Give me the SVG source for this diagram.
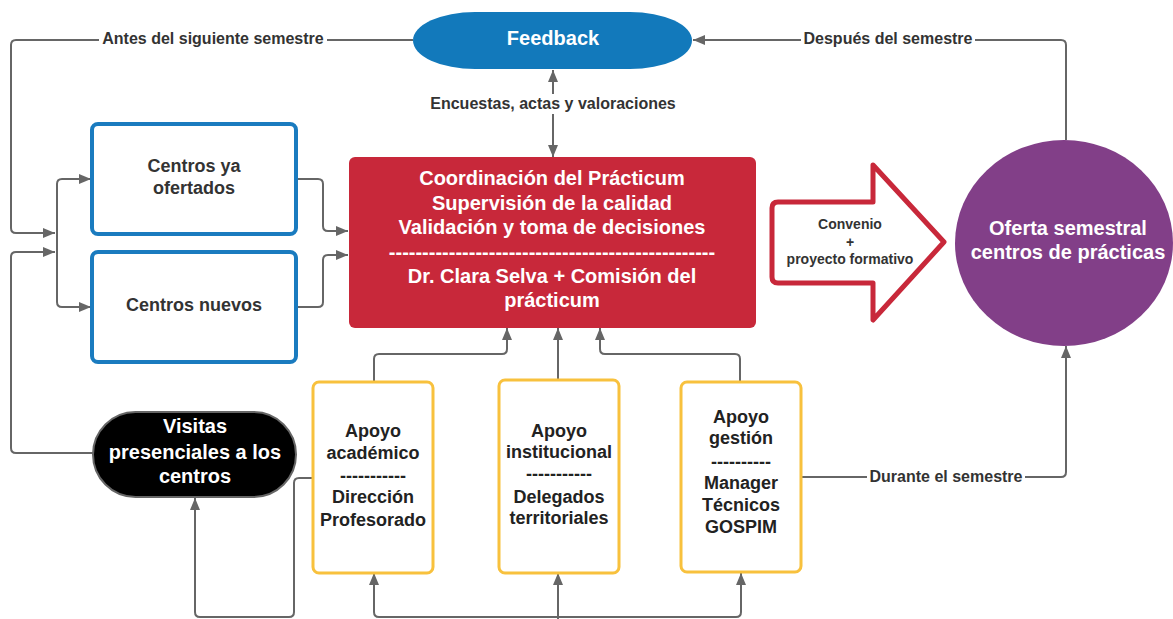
<svg xmlns="http://www.w3.org/2000/svg" width="1173" height="619" viewBox="0 0 1173 619">
<style>
text{font-family:"Liberation Sans",Arial,sans-serif;font-weight:bold;text-anchor:middle}
.c{fill:none;stroke:#666;stroke-width:2}
.lbl{font-size:16px;fill:#333}
.bg{fill:#fff}
.wt{fill:#fff;font-size:20px}
.bt{fill:none;stroke:#1a7bbf;stroke-width:4}
.yb{fill:#fff;stroke:#f8c13d;stroke-width:3}
.dk{fill:#222;font-size:18px}
</style>
<defs>
<marker id="ah" markerUnits="userSpaceOnUse" markerWidth="12" markerHeight="10" refX="12" refY="5" orient="auto-start-reverse">
<path d="M0,0 L12,5 L0,10 z" fill="#666"/>
</marker>
</defs>
<g id="connectors">
<path class="c" d="M413,40 L16,40 Q11,40 11,45 L11,228 Q11,233 16,233 L55,233" marker-end="url(#ah)"/>
<path class="c" d="M93,453 L16,453 Q11,453 11,448 L11,257 Q11,252 16,252 L55,252" marker-end="url(#ah)"/>
<path class="c" d="M91,179 L62,179 Q57,179 57,184 L57,302 Q57,307 62,307 L91,307" marker-start="url(#ah)" marker-end="url(#ah)"/>
<path class="c" d="M296,179 L318,179 Q323,179 323,184 L323,226 Q323,231 328,231 L348,231" marker-end="url(#ah)"/>
<path class="c" d="M296,307 L318,307 Q323,307 323,302 L323,260 Q323,255 328,255 L348,255" marker-end="url(#ah)"/>
<path class="c" d="M553,70 L553,157" marker-start="url(#ah)" marker-end="url(#ah)"/>
<path class="c" d="M1066,140 L1066,45 Q1066,40 1061,40 L693,40" marker-end="url(#ah)"/>
<path class="c" d="M374,381 L374,359 Q374,354 379,354 L502,354 Q507,354 507,349 L507,328" marker-end="url(#ah)"/>
<path class="c" d="M558,380 L558,328" marker-end="url(#ah)"/>
<path class="c" d="M740,381 L740,359 Q740,354 735,354 L605,354 Q600,354 600,349 L600,328" marker-end="url(#ah)"/>
<path class="c" d="M313,478 L299,478 Q294,478 294,483 L294,612 Q294,617 289,617 L200,617 Q195,617 195,612 L195,498" marker-end="url(#ah)"/>
<path class="c" d="M374,573 L374,612 Q374,617 379,617 L736,617 Q741,617 741,612 L741,573" marker-start="url(#ah)" marker-end="url(#ah)"/>
<path class="c" d="M558,620 L558,573" marker-end="url(#ah)"/>
<path class="c" d="M801,477 L1061,477 Q1066,477 1066,472 L1066,346" marker-end="url(#ah)"/>
<rect class="bg" x="99" y="30" width="228" height="20"/>
<text class="lbl" x="213" y="44">Antes del siguiente semestre</text>
<rect class="bg" x="801" y="30" width="174" height="20"/>
<text class="lbl" x="888" y="44">Después del semestre</text>
<rect class="bg" x="426" y="94" width="254" height="20"/>
<text class="lbl" x="553" y="109">Encuestas, actas y valoraciones</text>
<rect class="bg" x="867" y="467" width="158" height="20"/>
<text class="lbl" x="946" y="482">Durante el semestre</text>
</g>
<g id="feedback">
<rect x="413" y="12" width="279" height="57" rx="62" ry="28.5" fill="#1279bb"/>
<text class="wt" x="553" y="45">Feedback</text>
</g>
<g id="centros-ya">
<rect class="bt" x="92" y="124" width="204" height="110" rx="6"/>
<text x="194" y="172" font-size="18" fill="#333">Centros ya</text>
<text x="194" y="194" font-size="18" fill="#333">ofertados</text>
</g>
<g id="centros-nuevos">
<rect class="bt" x="92" y="252" width="204" height="110" rx="6"/>
<text x="194" y="311" font-size="18" fill="#333">Centros nuevos</text>
</g>
<g id="coordinacion">
<rect x="349" y="157" width="407" height="171" rx="6" fill="#c8283a"/>
<text class="wt" x="552" y="185">Coordinación del Prácticum</text>
<text class="wt" x="552" y="210">Supervisión de la calidad</text>
<text class="wt" x="552" y="234">Validación y toma de decisiones</text>
<text class="wt" x="552" y="259">-------------------------------------------------</text>
<text class="wt" x="552" y="283">Dr. Clara Selva + Comisión del</text>
<text class="wt" x="552" y="307">prácticum</text>
</g>
<g id="convenio">
<path d="M778,202 L873,202 L873,165 L944,242 L873,320 L873,283 L778,283 Q772,283 772,277 L772,208 Q772,202 778,202 Z" fill="#fff" stroke="#c8283a" stroke-width="5" stroke-linejoin="round"/>
<text x="850" y="229" font-size="14" fill="#333">Convenio</text>
<text x="850" y="247" font-size="14" fill="#333">+</text>
<text x="850" y="264" font-size="14" fill="#333">proyecto formativo</text>
</g>
<g id="oferta">
<ellipse cx="1064" cy="243" rx="109" ry="103" fill="#823f88"/>
<text class="wt" x="1068" y="235">Oferta semestral</text>
<text class="wt" x="1068" y="259">centros de prácticas</text>
</g>
<g id="visitas">
<rect x="93" y="412" width="203" height="85" rx="42.5" fill="#000" stroke="#666" stroke-width="2"/>
<text class="wt" x="195" y="433">Visitas</text>
<text class="wt" x="195" y="459">presenciales a los</text>
<text class="wt" x="195" y="483">centros</text>
</g>
<g id="apoyo-academico">
<rect class="yb" x="313" y="382" width="120" height="191" rx="6"/>
<text class="dk" x="373" y="437">Apoyo</text>
<text class="dk" x="373" y="459">académico</text>
<text class="dk" x="373" y="482">-----------</text>
<text class="dk" x="373" y="503">Dirección</text>
<text class="dk" x="373" y="526">Profesorado</text>
</g>
<g id="apoyo-institucional">
<rect class="yb" x="499" y="380" width="120" height="193" rx="6"/>
<text class="dk" x="559" y="437">Apoyo</text>
<text class="dk" x="559" y="458">institucional</text>
<text class="dk" x="559" y="480">-----------</text>
<text class="dk" x="559" y="503">Delegados</text>
<text class="dk" x="559" y="524">territoriales</text>
</g>
<g id="apoyo-gestion">
<rect class="yb" x="681" y="382" width="120" height="190" rx="6"/>
<text class="dk" x="741" y="423">Apoyo</text>
<text class="dk" x="741" y="444">gestión</text>
<text class="dk" x="741" y="468">----------</text>
<text class="dk" x="741" y="489">Manager</text>
<text class="dk" x="741" y="511">Técnicos</text>
<text class="dk" x="741" y="533">GOSPIM</text>
</g>
</svg>
